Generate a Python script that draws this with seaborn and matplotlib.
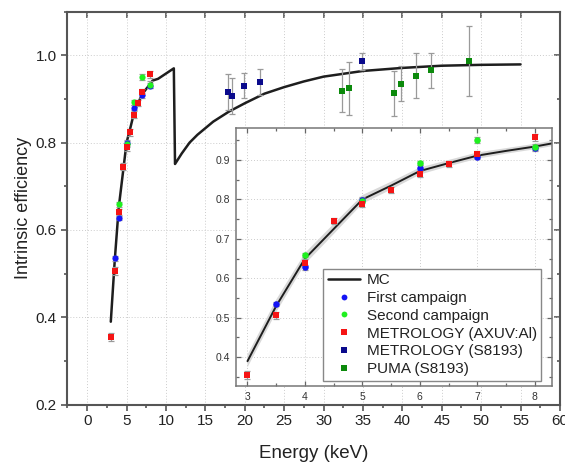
import matplotlib
matplotlib.use("Agg")
import matplotlib.pyplot as plt
from matplotlib.lines import Line2D
from matplotlib.ticker import MultipleLocator, FormatStrFormatter
import pandas as pd
import seaborn as sns

# Monte Carlo simulated intrinsic efficiency (with Ge K-edge drop near 11.1 keV)
mc_energy = [3.0, 3.5, 4.0, 4.5, 5.0, 5.5, 6.0, 6.5, 7.0, 7.5, 8.0, 8.3, 9.0, 10.0,
             11.0, 11.15, 12.0, 13.0, 14.0, 16.0, 18.0, 20.0, 22.5, 25.0, 27.5,
             30.0, 35.0, 40.0, 45.0, 50.0, 55.0]
mc_eff = [0.39, 0.53, 0.65, 0.725, 0.800, 0.835, 0.872, 0.892, 0.911, 0.923, 0.934,
          0.942, 0.946, 0.958, 0.970, 0.751, 0.775, 0.800, 0.818, 0.848, 0.871,
          0.890, 0.912, 0.927, 0.940, 0.951, 0.964, 0.971, 0.976, 0.978, 0.979]
mc_unc = [0.016, 0.016, 0.014, 0.013, 0.011, 0.010, 0.009, 0.008, 0.008, 0.007,
          0.007, 0.007, 0.007, 0.007, 0.007, 0.007, 0.007, 0.007, 0.007, 0.007,
          0.007, 0.007, 0.007, 0.007, 0.007, 0.007, 0.007, 0.007, 0.007, 0.007, 0.007]

# First campaign
first_energy = [3.5, 4.0, 5.0, 6.0, 7.0, 8.0]
first_eff = [0.535, 0.628, 0.799, 0.880, 0.908, 0.930]
first_err = [0.006, 0.006, 0.006, 0.006, 0.006, 0.006]

# Second campaign
second_energy = [4.0, 5.0, 6.0, 7.0, 8.0]
second_eff = [0.659, 0.797, 0.892, 0.951, 0.933]
second_err = [0.006, 0.006, 0.006, 0.007, 0.007]

# METROLOGY (AXUV:Al)
axuv_energy = [3.0, 3.5, 4.0, 4.5, 5.0, 5.5, 6.0, 6.5, 7.0, 8.0]
axuv_eff = [0.355, 0.506, 0.640, 0.745, 0.789, 0.824, 0.864, 0.890, 0.916, 0.957]
axuv_err = [0.009, 0.009, 0.008, 0.008, 0.008, 0.008, 0.008, 0.007, 0.007, 0.008]

# METROLOGY (S8193)
s8193_energy = [17.9, 18.4, 19.9, 21.9, 34.85]
s8193_eff = [0.915, 0.906, 0.930, 0.939, 0.986]
s8193_err = [0.041, 0.041, 0.029, 0.030, 0.020]

# PUMA (S8193)
puma_energy = [32.3, 33.25, 38.9, 39.85, 41.7, 43.65, 48.45]
puma_eff = [0.919, 0.924, 0.913, 0.935, 0.953, 0.966, 0.987]
puma_err = [0.050, 0.060, 0.051, 0.040, 0.051, 0.040, 0.081]

series_names = ["First campaign", "Second campaign", "METROLOGY (AXUV:Al)",
                "METROLOGY (S8193)", "PUMA (S8193)"]
series_colors = ["#1414f5", "#1ff01f", "#f51414", "#0a0a8c", "#0c8a0c"]
series_markers = ["o", "o", "s", "s", "s"]

frames = []
for name, e, v, err in zip(series_names,
                           [first_energy, second_energy, axuv_energy, s8193_energy, puma_energy],
                           [first_eff, second_eff, axuv_eff, s8193_eff, puma_eff],
                           [first_err, second_err, axuv_err, s8193_err, puma_err]):
    frames.append(pd.DataFrame({"energy": e, "eff": v, "err": err, "series": name}))
points = pd.concat(frames, ignore_index=True)
mc = pd.DataFrame({"energy": mc_energy, "eff": mc_eff, "unc": mc_unc})

sns.set_theme(style="ticks")
plt.rcParams["font.family"] = ["Liberation Sans", "DejaVu Sans"]

fig = plt.figure(figsize=(5.65, 4.62), dpi=100)
ax = fig.add_axes([0.118, 0.124, 0.873, 0.851])

spine_col = "#555555"
grid_kw = dict(color="#cccccc", linestyle=(0, (1, 2)), linewidth=0.7)
err_col = "#9a9a9a"


def draw_points(axis, data, ms_circle, ms_square, cap):
    for name, col, mk in zip(series_names, series_colors, series_markers):
        sub = data[data["series"] == name]
        if sub.empty:
            continue
        axis.errorbar(sub["energy"], sub["eff"], yerr=sub["err"], fmt="none",
                      ecolor=err_col, elinewidth=0.9, capsize=cap, capthick=0.9, zorder=3)
        sns.scatterplot(data=sub, x="energy", y="eff", ax=axis, color=col, marker=mk,
                        s=(ms_circle if mk == "o" else ms_square), linewidth=0,
                        zorder=4, legend=False)


# ---- main axes ----
sns.lineplot(data=mc, x="energy", y="eff", ax=ax, color="#1e1e1e", linewidth=1.8,
             sort=False, zorder=2)
draw_points(ax, points, 20, 20, 2.5)

ax.set_xlim(-2.6, 60)
ax.set_ylim(0.2, 1.1)
ax.xaxis.set_major_locator(MultipleLocator(5))
ax.xaxis.set_minor_locator(MultipleLocator(2.5))
ax.yaxis.set_major_locator(MultipleLocator(0.2))
ax.yaxis.set_minor_locator(MultipleLocator(0.1))
ax.yaxis.set_major_formatter(FormatStrFormatter("%.1f"))
ax.grid(True, which="major", **grid_kw)
ax.tick_params(which="both", direction="out", color=spine_col, width=1.2,
               labelsize=11, colors="#222222", top=False, right=False)
ax.tick_params(which="major", length=4, pad=3)
ax.tick_params(which="minor", length=2.5)
for sp in ax.spines.values():
    sp.set_color(spine_col)
    sp.set_linewidth(1.5)
ax.set_xlabel("Energy (keV)", fontsize=13.5, labelpad=12, color="#222222")
ax.set_ylabel("Intrinsic efficiency", fontsize=13, labelpad=3, color="#222222")

top = ax.secondary_xaxis("top")
top.xaxis.set_major_locator(MultipleLocator(5))
top.tick_params(direction="in", length=4, width=1.2, color=spine_col, labeltop=False)
right = ax.secondary_yaxis("right")
right.yaxis.set_major_locator(MultipleLocator(0.2))
right.yaxis.set_minor_locator(MultipleLocator(0.1))
right.tick_params(which="both", direction="in", width=1.2, color=spine_col, labelright=False)
right.tick_params(which="major", length=4)
right.tick_params(which="minor", length=2.5)
for s in (top, right):
    for sp in s.spines.values():
        sp.set_visible(False)

# ---- inset axes ----
ins = fig.add_axes([0.4177, 0.1645, 0.5593, 0.5584])
ins.set_facecolor("white")
ins.fill_between(mc["energy"], mc["eff"] - mc["unc"], mc["eff"] + mc["unc"],
                 color="#d9d9d9", linewidth=0, zorder=1)
sns.lineplot(data=mc, x="energy", y="eff", ax=ins, color="#1e1e1e", linewidth=1.4,
             sort=False, zorder=2)
draw_points(ins, points[points["energy"] < 9], 22, 22, 2)

ins.set_xlim(2.8, 8.3)
ins.set_ylim(0.327, 0.981)
ins.xaxis.set_major_locator(MultipleLocator(1))
ins.xaxis.set_minor_locator(MultipleLocator(0.5))
ins.yaxis.set_major_locator(MultipleLocator(0.1))
ins.yaxis.set_minor_locator(MultipleLocator(0.05))
ins.yaxis.set_major_formatter(FormatStrFormatter("%.1f"))
ins.grid(True, which="major", **grid_kw)
ins.tick_params(which="both", direction="in", top=True, right=True, color="#666666",
                width=0.9, labelsize=7.5, colors="#333333")
ins.tick_params(which="major", length=3.5, pad=4)
ins.tick_params(which="minor", length=2)
for sp in ins.spines.values():
    sp.set_color("#777777")
    sp.set_linewidth(1.1)
ins.set_xlabel("")
ins.set_ylabel("")

handles = [Line2D([], [], color="#1e1e1e", linewidth=1.8, label="MC")]
for name, col, mk in zip(series_names, series_colors, series_markers):
    handles.append(Line2D([], [], linestyle="none", marker=mk, markersize=4.2,
                          markerfacecolor=col, markeredgewidth=0, label=name))
leg = ins.legend(handles=handles, loc="lower right", bbox_to_anchor=(0.966, 0.02),
                 fontsize=11, frameon=True, fancybox=False, framealpha=1,
                 edgecolor="#888888", handlelength=2.1, handletextpad=0.45,
                 labelspacing=0.25, borderpad=0.3, borderaxespad=0)
leg.get_frame().set_linewidth(1.0)
for t in leg.get_texts():
    t.set_color("#222222")

fig.savefig("out.png", dpi=100)
